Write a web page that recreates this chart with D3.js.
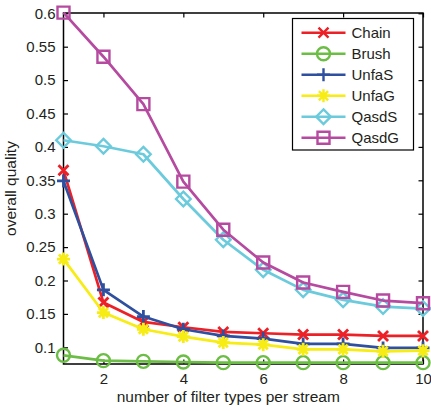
<!DOCTYPE html>
<html>
<head>
<meta charset="utf-8">
<script src="https://cdn.jsdelivr.net/npm/d3@7"></script>
<style>
  html, body { margin: 0; padding: 0; background: #fff; }
  svg { display: block; }
  text { font-family: "Liberation Sans", Arial, sans-serif; fill: #231f20; }
</style>
</head>
<body>
<svg id="chart" width="431" height="411"></svg>
<script>
// number of filter types per stream
const filterTypes = [1, 2, 3, 4, 5, 6, 7, 8, 9, 10];

// overall quality per method
const chain = [0.365, 0.167, 0.138, 0.130, 0.123, 0.121, 0.119, 0.119, 0.117, 0.117];
const brush = [0.088, 0.080, 0.079, 0.078, 0.077, 0.077, 0.077, 0.077, 0.077, 0.077];
const unfaS = [0.349, 0.186, 0.146, 0.127, 0.117, 0.113, 0.105, 0.105, 0.099, 0.099];
const unfaG = [0.232, 0.152, 0.127, 0.116, 0.107, 0.104, 0.097, 0.097, 0.094, 0.095];
const qasdS = [0.410, 0.401, 0.389, 0.322, 0.261, 0.216, 0.186, 0.171, 0.161, 0.158];
const qasdG = [0.601, 0.535, 0.464, 0.348, 0.276, 0.227, 0.197, 0.183, 0.170, 0.166];

const seriesNames = ["Chain", "Brush", "UnfaS", "UnfaG", "QasdS", "QasdG"];
const seriesValues = [chain, brush, unfaS, unfaG, qasdS, qasdG];
const seriesColors = ["#ec2027", "#6cbd45", "#2f4f9f", "#f7ec13", "#6bcbdc", "#b54aa0"];
const seriesMarkers = ["x", "circle", "plus", "star", "diamond", "square"];

const xTicks = [2, 4, 6, 8, 10];
const yTicks = [0.1, 0.15, 0.2, 0.25, 0.3, 0.35, 0.4, 0.45, 0.5, 0.55, 0.6];
const yTickLabels = ["0.1", "0.15", "0.2", "0.25", "0.3", "0.35", "0.4", "0.45", "0.5", "0.55", "0.6"];

const xLabel = "number of filter types per stream";
const yLabel = "overall quality";

const svg = d3.select("#chart");
const plot = { left: 63.5, right: 423, top: 13, bottom: 364 };

const x = d3.scaleLinear().domain([1, 10]).range([plot.left, plot.right]);
const y = d3.scaleLinear().domain([0.075, 0.6]).range([plot.bottom, plot.top + 0.3]);

// marker path generators, centred on 0,0
function markerPath(type) {
  const p = d3.path();
  if (type === "x") {
    const h = 5;
    p.moveTo(-h, -h); p.lineTo(h, h);
    p.moveTo(-h, h); p.lineTo(h, -h);
  } else if (type === "plus") {
    const h = 6.5;
    p.moveTo(-h, 0); p.lineTo(h, 0);
    p.moveTo(0, -h); p.lineTo(0, h);
  } else if (type === "star") {
    const h = 6.5, d = h * Math.SQRT1_2;
    p.moveTo(-h, 0); p.lineTo(h, 0);
    p.moveTo(0, -h); p.lineTo(0, h);
    p.moveTo(-d, -d); p.lineTo(d, d);
    p.moveTo(-d, d); p.lineTo(d, -d);
  } else if (type === "circle") {
    p.arc(0, 0, 6.5, 0, 2 * Math.PI);
    p.closePath();
  } else if (type === "diamond") {
    const h = 7.3;
    p.moveTo(0, -h); p.lineTo(h, 0); p.lineTo(0, h); p.lineTo(-h, 0); p.closePath();
  } else if (type === "square") {
    const h = 6;
    p.rect(-h, -h, 2 * h, 2 * h);
  }
  return p.toString();
}

// axes box
const axisG = svg.append("g");
axisG.append("rect")
  .attr("x", plot.left).attr("y", plot.top)
  .attr("width", plot.right - plot.left).attr("height", plot.bottom - plot.top)
  .attr("fill", "none").attr("stroke", "#000").attr("stroke-width", 1.5);

const tickLen = 4.5;
// bottom axis with inward ticks, mirrored on top
const xAxis = d3.axisBottom(x).tickValues(xTicks).tickSize(-tickLen).tickPadding(9).tickFormat(d3.format("d"));
const gx = svg.append("g").attr("transform", `translate(0,${plot.bottom})`).call(xAxis);
const xTop = d3.axisTop(x).tickValues(xTicks).tickSize(-tickLen).tickFormat("");
const gxt = svg.append("g").attr("transform", `translate(0,${plot.top})`).call(xTop);

const yAxis = d3.axisLeft(y).tickValues(yTicks).tickSize(-tickLen).tickPadding(8)
  .tickFormat((d, i) => yTickLabels[i]);
const gy = svg.append("g").attr("transform", `translate(${plot.left},0)`).call(yAxis);
const yRight = d3.axisRight(y).tickValues(yTicks).tickSize(-tickLen).tickFormat("");
const gyr = svg.append("g").attr("transform", `translate(${plot.right},0)`).call(yRight);

[gx, gxt, gy, gyr].forEach(g => {
  g.select(".domain").remove();
  g.selectAll(".tick line").attr("stroke", "#000").attr("stroke-width", 1.2);
  g.selectAll(".tick text").style("font-size", "15px").attr("fill", "#231f20")
    .style("font-family", "\"Liberation Sans\", Arial, sans-serif");
});
gx.selectAll(".tick text").attr("dy", "0.71em");

// series lines and markers
const line = d3.line().x((d, i) => x(filterTypes[i])).y(d => y(d));
seriesValues.forEach((vals, s) => {
  const g = svg.append("g");
  g.append("path")
    .attr("d", line(vals))
    .attr("fill", "none")
    .attr("stroke", seriesColors[s])
    .attr("stroke-width", 2.7)
    .attr("stroke-linejoin", "round");
  g.selectAll("path.mk")
    .data(vals)
    .join("path")
    .attr("class", "mk")
    .attr("transform", (d, i) => `translate(${x(filterTypes[i])},${y(d)})`)
    .attr("d", markerPath(seriesMarkers[s]))
    .attr("fill", "none")
    .attr("stroke", seriesColors[s])
    .attr("stroke-width", seriesMarkers[s] === "x" || seriesMarkers[s] === "plus" || seriesMarkers[s] === "star" ? 2.8 : 2.4);
});

// axis titles
svg.append("text")
  .attr("x", (plot.left + plot.right) / 2 - 15)
  .attr("y", 402)
  .attr("text-anchor", "middle")
  .style("font-size", "15.5px")
  .text(xLabel);

svg.append("text")
  .attr("transform", `translate(16,${(plot.top + plot.bottom) / 2}) rotate(-90)`)
  .attr("text-anchor", "middle")
  .style("font-size", "15.5px")
  .text(yLabel);

// legend
const legend = svg.append("g");
const lg = { x: 292.5, y: 18.5, w: 121, h: 131.5 };
legend.append("rect")
  .attr("x", lg.x).attr("y", lg.y).attr("width", lg.w).attr("height", lg.h)
  .attr("fill", "#fff").attr("stroke", "#000").attr("stroke-width", 1.2);
seriesNames.forEach((name, s) => {
  const cy = 32.7 + s * 21;
  legend.append("line")
    .attr("x1", 301.5).attr("x2", 345.5).attr("y1", cy).attr("y2", cy)
    .attr("stroke", seriesColors[s]).attr("stroke-width", 2.6);
  legend.append("path")
    .attr("transform", `translate(323.5,${cy})`)
    .attr("d", markerPath(seriesMarkers[s]))
    .attr("fill", "none")
    .attr("stroke", seriesColors[s])
    .attr("stroke-width", 2.4);
  legend.append("text")
    .attr("x", 351.5).attr("y", cy)
    .attr("dy", "0.36em")
    .style("font-size", "15px")
    .text(name);
});
</script>
</body>
</html>
